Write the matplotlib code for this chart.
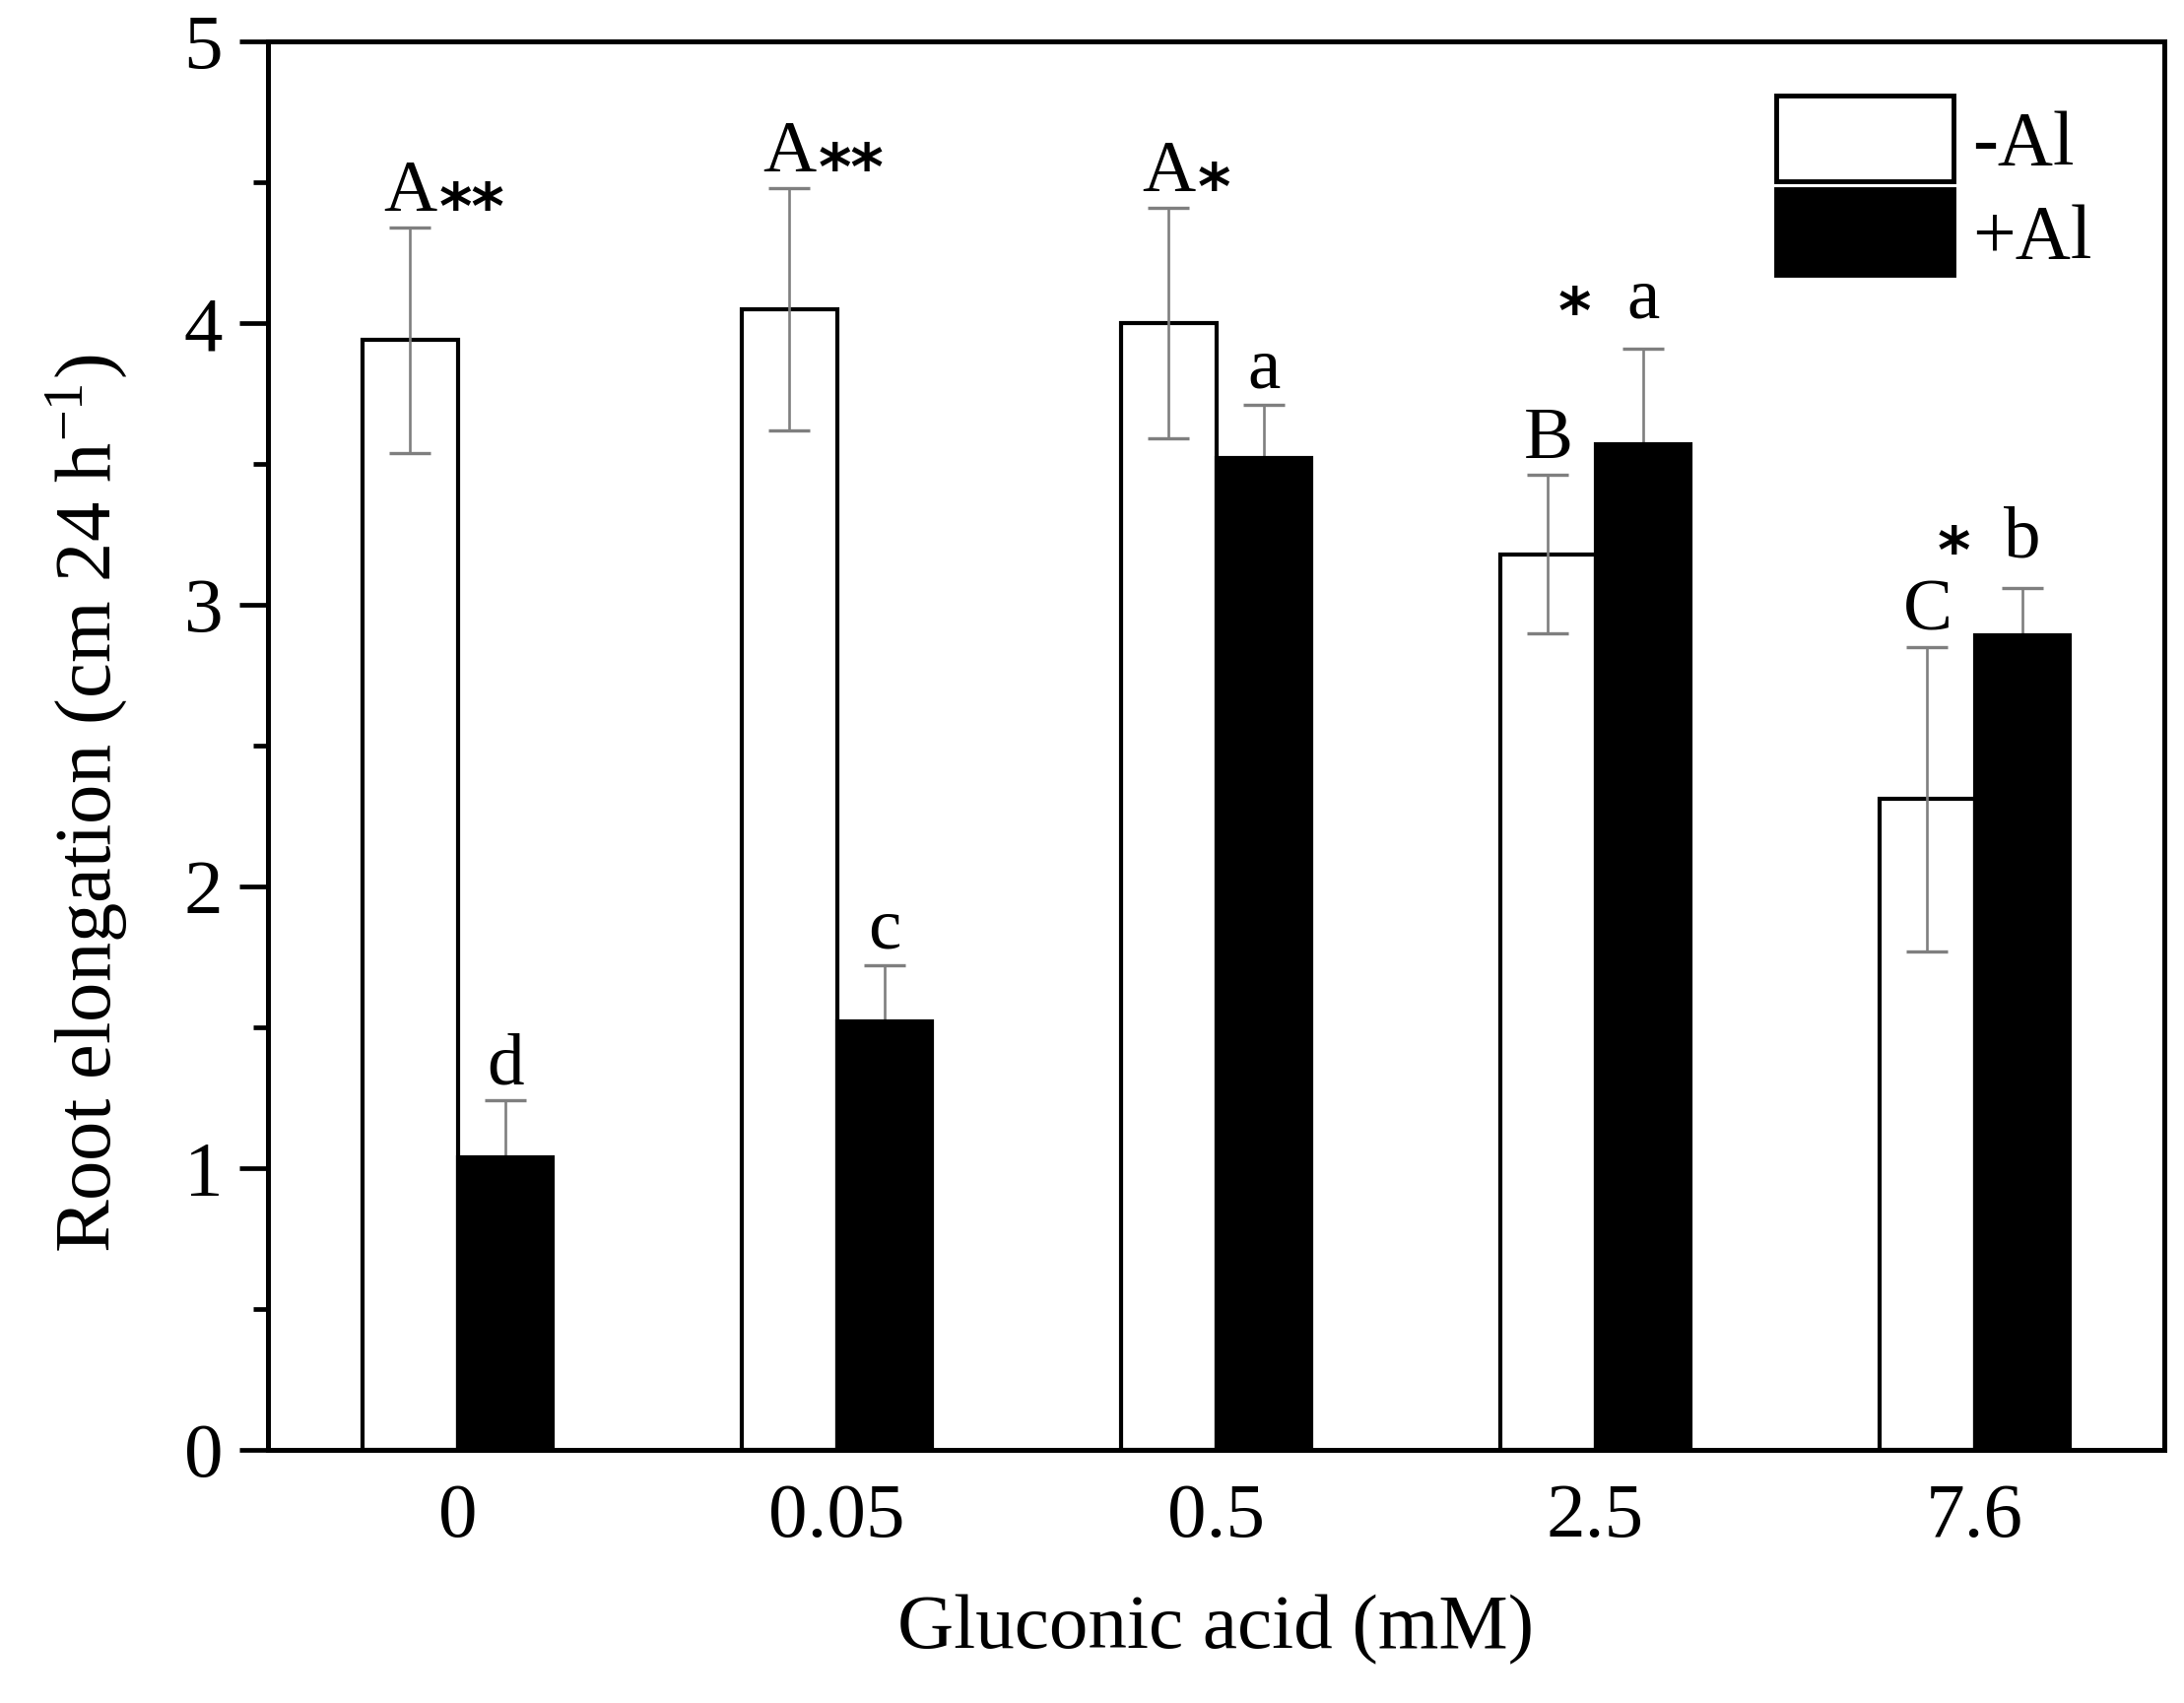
import matplotlib
matplotlib.use('Agg')
import matplotlib.pyplot as plt
from matplotlib.patches import Patch
from matplotlib.ticker import MultipleLocator
import numpy as np

plt.rcParams['font.family'] = ['Liberation Serif', 'DejaVu Serif']
plt.rcParams['mathtext.fontset'] = 'stix'

# ---- data ----
categories = ['0', '0.05', '0.5', '2.5', '7.6']
minus_al = [3.94, 4.05, 4.00, 3.18, 2.31]
minus_al_err = [0.40, 0.43, 0.41, 0.28, 0.54]
plus_al = [1.04, 1.52, 3.52, 3.57, 2.89]
plus_al_err = [0.20, 0.20, 0.19, 0.34, 0.17]
letters_minus = ['A', 'A', 'A', 'B', 'C']
letters_plus = ['d', 'c', 'a', 'a', 'b']
stars = ['**', '**', '*', '*', '*']
star_after_letter = [True, True, True, False, False]

# label placement (style)
lift_minus = [0.06, 0.06, 0.06, 0.06, 0.06]
lift_plus = [0.06, 0.06, 0.06, 0.11, 0.11]

x = np.arange(len(categories))
w = 0.25

fig = plt.figure(figsize=(22.17, 17.29), dpi=100)
ax = fig.add_axes([0.1227, 0.1486, 0.8683, 0.8271])

err_col = '#7f7f7f'
ax.bar(x - w / 2, minus_al, w, color='white', edgecolor='black', linewidth=3.0, zorder=2)
ax.errorbar(x - w / 2, minus_al, yerr=minus_al_err, fmt='none', ecolor=err_col,
            elinewidth=1.9, capsize=15, capthick=2.4, zorder=3)
ax.errorbar(x + w / 2, plus_al, yerr=plus_al_err, fmt='none', ecolor=err_col,
            elinewidth=1.9, capsize=15, capthick=2.4, zorder=1)
ax.bar(x + w / 2, plus_al, w, color='black', edgecolor='black', linewidth=3.0, zorder=2)

fs_let = 54
fs_star = 46
for i in range(len(categories)):
    ym = minus_al[i] + minus_al_err[i] + lift_minus[i]
    yp = plus_al[i] + plus_al_err[i] + lift_plus[i]
    ax.text(x[i] - w / 2, ym, letters_minus[i], ha='center', va='baseline', fontsize=fs_let, zorder=5)
    ax.text(x[i] + w / 2, yp, letters_plus[i], ha='center', va='baseline', fontsize=fs_let, zorder=5)
    if star_after_letter[i]:
        ax.annotate(stars[i], xy=(x[i] - w / 2, ym), xytext=(21, -13), textcoords='offset points',
                    ha='left', va='baseline', fontsize=fs_star, family='DejaVu Sans',
                    fontweight='bold', zorder=5)
    else:
        ax.annotate(stars[i], xy=(x[i] - 0.055, yp), xytext=(0, -11), textcoords='offset points',
                    ha='center', va='baseline', fontsize=fs_star, family='DejaVu Sans',
                    fontweight='bold', zorder=5)

ax.set_xlim(-0.5, 4.5)
ax.set_ylim(0, 5)
ax.set_xticks(x)
ax.set_xticklabels(categories)
ax.yaxis.set_major_locator(MultipleLocator(1))
ax.yaxis.set_minor_locator(MultipleLocator(0.5))
ax.tick_params(axis='y', which='major', direction='out', length=21, width=3.4, labelsize=57, pad=12)
ax.tick_params(axis='y', which='minor', direction='out', length=11, width=3.4)
ax.tick_params(axis='x', which='both', length=0, labelsize=57, pad=24)
for s in ax.spines.values():
    s.set_linewidth(3.6)

ax.set_xlabel('Gluconic acid (mM)', fontsize=57, labelpad=30)
ax.set_ylabel('Root elongation (cm 24 h$^{\\mathregular{-1}}$)', fontsize=58)
ax.yaxis.set_label_coords(-0.072, 0.459)

handles = [Patch(facecolor='white', edgecolor='black', linewidth=3.5),
           Patch(facecolor='black', edgecolor='black', linewidth=3.5)]
ax.legend(handles, ['-Al', '+Al'], loc='upper left', bbox_to_anchor=(0.7953, 0.9615),
          frameon=False, fontsize=56, borderpad=0, borderaxespad=0,
          handlelength=2.31, handleheight=1.35, labelspacing=0.1, handletextpad=0.25)

fig.savefig('out.png', dpi=100, facecolor='white')
